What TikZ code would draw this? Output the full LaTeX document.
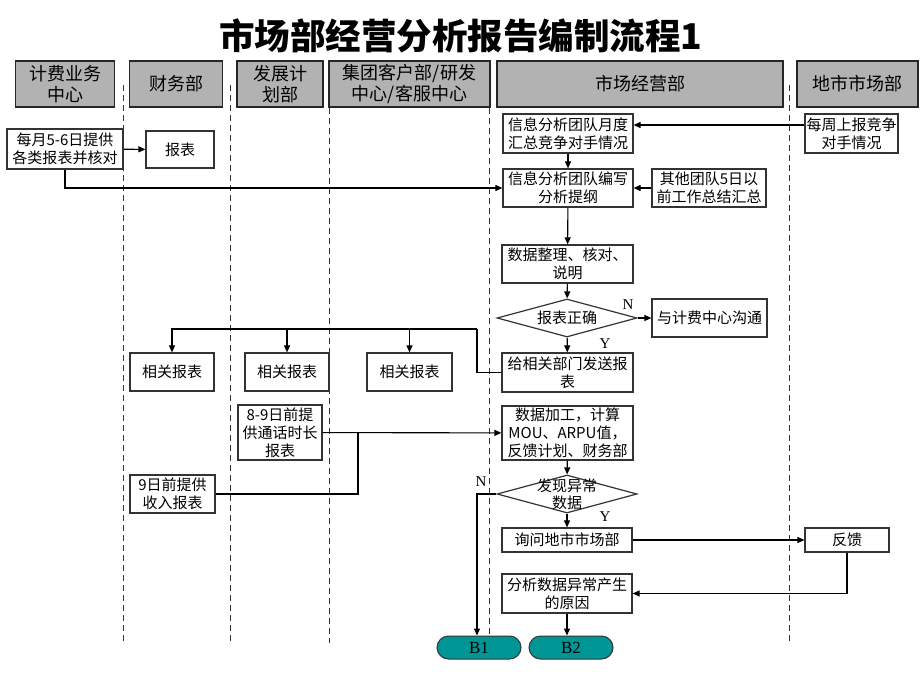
\documentclass[tikz,border=0pt]{standalone}
\usepackage{fontspec}
\setmainfont{Noto Sans CJK SC}
\newfontfamily\latinfont{Liberation Serif}
\usetikzlibrary{arrows.meta,shapes.geometric}
\definecolor{headgray}{RGB}{178,178,178}
\definecolor{bteal}{RGB}{0,150,150}
\newcommand\bodyfont{\fontsize{15}{18}\selectfont}

\begin{document}
\begin{tikzpicture}[
  x=1pt,y=-1pt,
  lanehead/.style={draw=black!85,line width=1.5pt,fill=headgray,inner sep=0pt,align=center,font=\fontsize{18}{21}\selectfont},
  stepbox/.style={draw=black!80,line width=1.2pt,fill=white,inner sep=0pt,align=center,font=\bodyfont},
  decide/.style={diamond,draw=black!80,line width=1.2pt,fill=white,inner sep=0pt,minimum width=140pt,minimum height=38pt},
  endcap/.style={draw=black!80,line width=1pt,fill=bteal,rounded corners=11.5pt,minimum width=84pt,minimum height=23pt,inner sep=0pt,font=\latinfont\fontsize{17}{17}\selectfont},
  lanesep/.style={black!80,line width=1pt,dash pattern=on 6pt off 4pt},
  arr/.style={-{Triangle[length=7pt,width=6pt]},line width=1.1pt},
  ln/.style={line width=1.1pt},
  yn/.style={font=\latinfont\fontsize{15}{15}\selectfont,inner sep=0pt}
]
\useasboundingbox (0,0) rectangle (920,690);

% title
\node[font=\fontsize{35.5}{37}\selectfont\bfseries] (title) at (461,36) {市场部经营分析报告编制流程1};

% lane separators
\foreach \lx/\ly in {123/85,230/85,329/108,489/108,789/85}
  \draw[lanesep] (\lx,\ly) -- (\lx,643);

% lane heads
\node[lanehead,minimum width=99pt,minimum height=46pt] (hbill) at (65,84) {计费业务\\中心};
\node[lanehead,minimum width=93pt,minimum height=46pt] (hfin) at (176,84) {财务部};
\node[lanehead,minimum width=86pt,minimum height=46pt] (hdev) at (280,84) {发展计\\划部};
\node[lanehead,minimum width=161pt,minimum height=46pt] (hgrp) at (409.5,84) {集团客户部/研发\\中心/客服中心};
\node[lanehead,minimum width=286pt,minimum height=46pt] (hmkt) at (640,84) {市场经营部};
\node[lanehead,minimum width=121pt,minimum height=46pt] (hcity) at (857.5,84) {地市市场部};

% steps
\node[stepbox,minimum width=116pt,minimum height=40pt] (bill) at (65,149) {每月5-6日提供\\各类报表并核对};
\node[stepbox,minimum width=68pt,minimum height=37pt] (rpt) at (180,149.5) {报表};
\node[stepbox,minimum width=130pt,minimum height=39pt] (monthly) at (568,133.5) {信息分析团队月度\\汇总竞争对手情况};
\node[stepbox,minimum width=93pt,minimum height=39pt] (weekly) at (851.5,133.5) {每周上报竞争\\对手情况};
\node[stepbox,minimum width=130pt,minimum height=38pt] (outline) at (568,188) {信息分析团队编写\\分析提纲};
\node[stepbox,minimum width=114pt,minimum height=38pt] (others) at (709,188) {其他团队5日以\\前工作总结汇总};
\node[stepbox,minimum width=131pt,minimum height=38pt] (tidy) at (567.5,264) {数据整理、核对、\\说明};
\node[decide,label={[font=\bodyfont]center:报表正确}] (chk) at (567,318) {};
\node[stepbox,minimum width=115pt,minimum height=38pt] (talk) at (709.5,318) {与计费中心沟通};
\node[stepbox,minimum width=131pt,minimum height=39pt] (send) at (567.5,372.5) {给相关部门发送报\\表};
\node[stepbox,minimum width=84pt,minimum height=38pt] (rel1) at (172,372) {相关报表};
\node[stepbox,minimum width=84pt,minimum height=38pt] (rel2) at (287,372) {相关报表};
\node[stepbox,minimum width=85pt,minimum height=38pt] (rel3) at (409.5,372) {相关报表};
\node[stepbox,minimum width=131pt,minimum height=54pt] (calc) at (567.5,433) {数据加工，计算\\MOU、ARPU值，\\反馈计划、财务部};
\node[stepbox,minimum width=84pt,minimum height=55pt] (call) at (280,432.5) {8-9日前提\\供通话时长\\报表};
\node[stepbox,minimum width=85pt,minimum height=38pt] (income) at (172.5,494) {9日前提供\\收入报表};
\node[decide,label={[font=\fontsize{15}{17}\selectfont,align=center]center:发现异常\\数据}] (anom) at (567,494) {};
\node[stepbox,minimum width=130pt,minimum height=24pt] (ask) at (567,540) {询问地市市场部};
\node[stepbox,minimum width=84pt,minimum height=24pt] (fb) at (847,540) {反馈};
\node[stepbox,minimum width=130pt,minimum height=39pt] (cause) at (567,593.5) {分析数据异常产生\\的原因};
\node[endcap] (b1) at (479,647.5) {B1};
\node[endcap] (b2) at (571,647.5) {B2};

% yes / no marks
\node[yn] (n1) at (628,305) {N};
\node[yn] (y1) at (605,344) {Y};
\node[yn] (n2) at (481,482) {N};
\node[yn] (y2) at (605,517) {Y};

% junctions
\coordinate (sendbend) at (477,329);
\coordinate (join) at (358,433);

% connectors
\draw[arr] (bill) -- (rpt);
\draw[arr] (bill.south) |- (outline.west);
\draw[arr] ([yshift=8.5pt]weekly.west) -- ([yshift=8.5pt]monthly.east);
\draw[arr] (monthly) -- (outline);
\draw[arr] (others) -- (outline);
\draw[arr] (outline) -- (tidy);
\draw[arr] (tidy) -- (chk);
\draw[arr] (chk) -- (talk);
\draw[arr] (chk) -- (send);
\draw[ln,line width=1.6pt] (send.west) -| (sendbend);
\draw[arr] (sendbend) -| (rel1.north);
\draw[arr] (rel2.north |- sendbend) -- (rel2.north);
\draw[arr] (rel3.north |- sendbend) -- (rel3.north);
\draw[arr] (call) -- (calc);
\draw[ln] (income.east) -| (join);
\draw[arr] (calc) -- (anom);
\draw[arr] (anom.west) -| ([xshift=-2pt]b1.north);
\draw[arr] (anom) -- (ask);
\draw[arr] (ask) -- (fb);
\draw[arr] (fb.south) |- (cause.east);
\draw[arr] (cause.south) -- (cause.south |- b2.north);
\end{tikzpicture}
\end{document}
